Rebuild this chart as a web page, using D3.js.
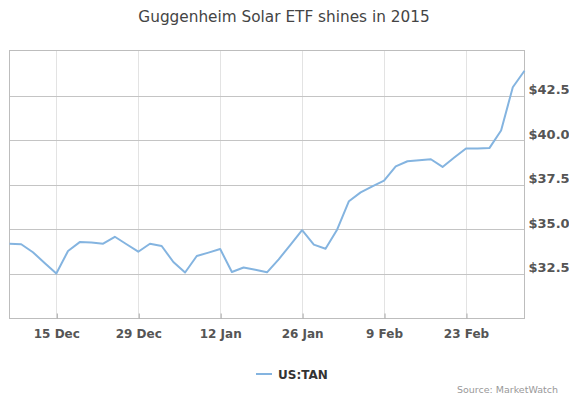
<!DOCTYPE html>
<html>
<head>
<meta charset="utf-8">
<script src="https://cdn.jsdelivr.net/npm/d3@7"></script>
<style>
  body { margin: 0; background: #fff; }
  svg { display: block; }
</style>
</head>
<body>
<svg id="chart"></svg>
<script>
// every other day, 7 Dec 2014 - 5 Mar 2015
var dates = ["2014-12-07","2014-12-09","2014-12-11","2014-12-13","2014-12-15","2014-12-17","2014-12-19",
  "2014-12-21","2014-12-23","2014-12-25","2014-12-27","2014-12-29","2014-12-31","2015-01-02","2015-01-04",
  "2015-01-06","2015-01-08","2015-01-10","2015-01-12","2015-01-14","2015-01-16","2015-01-18","2015-01-20",
  "2015-01-22","2015-01-24","2015-01-26","2015-01-28","2015-01-30","2015-02-01","2015-02-03","2015-02-05",
  "2015-02-07","2015-02-09","2015-02-11","2015-02-13","2015-02-15","2015-02-17","2015-02-19","2015-02-21",
  "2015-02-23","2015-02-25","2015-02-27","2015-03-01","2015-03-03","2015-03-05"];
var tan = [34.18,34.15,33.7,33.1,32.5,33.77,34.27,34.25,34.18,34.57,34.15,33.73,34.18,34.05,33.15,
  32.56,33.49,33.68,33.88,32.59,32.84,32.72,32.57,33.3,34.12,34.94,34.13,33.9,34.98,36.57,37.07,
  37.41,37.73,38.53,38.82,38.88,38.93,38.5,39.03,39.54,39.54,39.56,40.55,42.98,43.91];
var xTicks = ["2014-12-15","2014-12-29","2015-01-12","2015-01-26","2015-02-09","2015-02-23"];
var yTicks = [32.5, 35, 37.5, 40, 42.5];
var seriesName = "US:TAN";

var width = 569, height = 398;
var plotLeft = 9.5, plotRight = 524.5, plotTop = 50.5, plotBottom = 318;
var parse = d3.timeParse("%Y-%m-%d");

var data = dates.map(function(d, i) { return { date: parse(d), value: tan[i] }; });

var svg = d3.select("#chart").attr("width", width).attr("height", height);

var x = d3.scaleTime()
    .domain([parse("2014-12-07"), parse("2015-03-05")])
    .range([plotLeft, plotRight]);
var y = d3.scaleLinear()
    .domain([30, 45.05])
    .range([plotBottom, plotTop]);

// title
svg.append("text")
    .attr("x", 284).attr("y", 22)
    .attr("text-anchor", "middle")
    .style("font-family", "DejaVu Sans")
    .style("font-size", "15.3px")
    .style("fill", "#444")
    .text("Guggenheim Solar ETF shines in 2015");

// vertical grid
svg.append("g").selectAll("line")
    .data(xTicks.map(parse))
    .join("line")
    .attr("x1", function(d) { return Math.round(x(d)) + 0.5; })
    .attr("x2", function(d) { return Math.round(x(d)) + 0.5; })
    .attr("y1", plotTop).attr("y2", plotBottom)
    .attr("stroke", "#e3e3e3");

// horizontal grid
svg.append("g").selectAll("line")
    .data(yTicks)
    .join("line")
    .attr("x1", plotLeft).attr("x2", plotRight)
    .attr("y1", function(d) { return Math.round(y(d)) + 0.5; })
    .attr("y2", function(d) { return Math.round(y(d)) + 0.5; })
    .attr("stroke", "#c4c4c4");

// plot border
svg.append("rect")
    .attr("x", plotLeft).attr("y", plotTop)
    .attr("width", plotRight - plotLeft).attr("height", plotBottom - plotTop + 0.5)
    .attr("fill", "none")
    .attr("stroke", "#bdbdbd");

// x axis
var xAxis = svg.append("g")
    .attr("transform", "translate(0," + (plotBottom + 0.5) + ")")
    .call(d3.axisBottom(x)
      .tickValues(xTicks.map(parse))
      .tickFormat(d3.timeFormat("%-d %b"))
      .tickSize(-5)
      .tickPadding(11));
xAxis.select(".domain").remove();
xAxis.selectAll(".tick line").attr("stroke", "#aaa")
    .attr("transform", "translate(0.5,0)");
xAxis.selectAll("text")
    .style("font-family", "DejaVu Sans")
    .style("font-weight", "bold")
    .style("font-size", "12px")
    .style("fill", "#555");

// y axis on the right
var yAxis = svg.append("g")
    .attr("transform", "translate(" + (plotRight + 4) + ",0)")
    .call(d3.axisRight(y)
      .tickValues(yTicks)
      .tickFormat(function(d) { return "$" + d3.format(".1f")(d); })
      .tickSize(0)
      .tickPadding(0));
yAxis.select(".domain").remove();
yAxis.selectAll("text")
    .style("font-family", "DejaVu Sans")
    .style("font-weight", "bold")
    .style("font-size", "13px")
    .style("fill", "#555")
    .attr("transform", "translate(0,-6)");

// line
var line = d3.line()
    .x(function(d) { return x(d.date); })
    .y(function(d) { return y(d.value); });

svg.append("path")
    .datum(data)
    .attr("d", line)
    .attr("fill", "none")
    .attr("stroke", "#84b4e0")
    .attr("stroke-width", 2)
    .attr("stroke-linejoin", "round");

// legend
var legend = svg.append("g").attr("transform", "translate(256,374)");
legend.append("line")
    .attr("x1", 0).attr("x2", 16)
    .attr("stroke", "#84b4e0").attr("stroke-width", 2);
legend.append("text")
    .attr("x", 22).attr("y", 4.5)
    .style("font-family", "DejaVu Sans")
    .style("font-weight", "bold")
    .style("font-size", "12px")
    .style("fill", "#333")
    .text(seriesName);

// source
svg.append("text")
    .attr("x", 558).attr("y", 393)
    .attr("text-anchor", "end")
    .style("font-family", "DejaVu Sans")
    .style("font-size", "9.5px")
    .style("fill", "#999")
    .text("Source: MarketWatch");
</script>
</body>
</html>
